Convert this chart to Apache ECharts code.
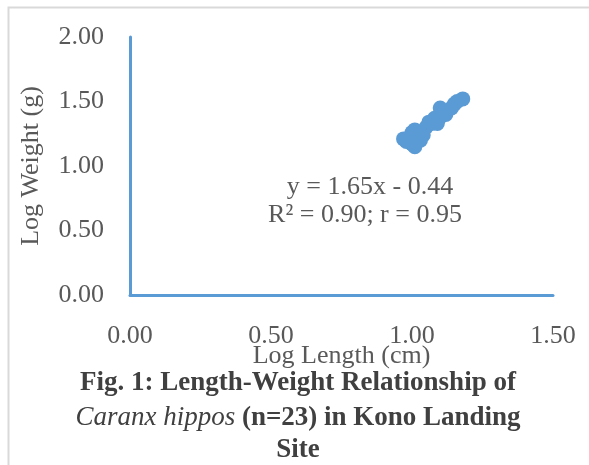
<!DOCTYPE html>
<html>
<head>
<meta charset="utf-8">
<script src="https://cdn.jsdelivr.net/npm/echarts@6/dist/echarts.min.js"></script>
<style>
  html, body { margin: 0; padding: 0; background: #fff; }
  #chart { width: 589px; height: 465px; }
</style>
</head>
<body>
<div id="chart"></div>
<script>
// Log length (cm) and log weight (g) of the 23 measured fish
const logLength = [0.97, 0.98, 0.99, 1.00, 1.00, 1.01, 1.01, 1.02, 1.03, 1.04, 1.05, 1.06,
                   1.07, 1.08, 1.09, 1.10, 1.10, 1.11, 1.12, 1.14, 1.15, 1.16, 1.18];
const logWeight = [1.21, 1.19, 1.22, 1.26, 1.17, 1.15, 1.28, 1.22, 1.20, 1.24, 1.30, 1.34,
                   1.33, 1.37, 1.33, 1.38, 1.45, 1.42, 1.40, 1.45, 1.48, 1.50, 1.52];
const xTicks = [0, 0.5, 1.0, 1.5];
const yTicks = [0, 0.5, 1.0, 1.5, 2.0];
const equationText = 'y = 1.65x - 0.44';
const fitText = 'R² = 0.90; r = 0.95';

const points = logLength.map((x, i) => [x, logWeight[i]]);
const serif = '"Liberation Serif", "Times New Roman", serif';
const blue = '#5B9BD5';
const grey = '#595959';
const dark = '#404040';

const chart = echarts.init(document.getElementById('chart'));
chart.setOption({
  animation: false,
  grid: { left: 130, right: 36, top: 37, bottom: 170 },
  xAxis: {
    type: 'value',
    min: xTicks[0], max: xTicks[xTicks.length - 1], interval: 0.5,
    name: 'Log Length (cm)', nameLocation: 'middle', nameGap: 48,
    nameMoveOverlap: false,
    nameTextStyle: { fontFamily: serif, fontSize: 26, color: grey },
    axisLine: { show: true, lineStyle: { color: blue, width: 3 } },
    axisTick: { show: false },
    splitLine: { show: false },
    axisLabel: { fontFamily: serif, fontSize: 26, color: grey, margin: 28,
                 formatter: v => v.toFixed(2) }
  },
  yAxis: {
    type: 'value',
    min: yTicks[0], max: yTicks[yTicks.length - 1], interval: 0.5,
    name: 'Log Weight (g)', nameLocation: 'middle', nameGap: 86,
    nameMoveOverlap: false,
    nameTextStyle: { fontFamily: serif, fontSize: 26, color: grey },
    axisLine: { show: true, lineStyle: { color: blue, width: 3 } },
    axisTick: { show: false },
    splitLine: { show: false },
    axisLabel: { fontFamily: serif, fontSize: 26, color: grey, margin: 26,
                 formatter: v => v.toFixed(2) }
  },
  series: [{
    type: 'scatter',
    data: points,
    symbol: 'circle',
    symbolSize: 15,
    itemStyle: { color: blue, opacity: 1 }
  }],
  graphic: [
    { type: 'rect', left: 6, top: 5, shape: { width: 620, height: 500 },
      style: { fill: 'none', stroke: '#D9D9D9', lineWidth: 2 }, silent: true },
    { type: 'text', x: 370, y: 187,
      style: { text: equationText, fontFamily: serif, fontSize: 26, fill: grey,
               textAlign: 'center', textVerticalAlign: 'middle' } },
    { type: 'text', x: 365, y: 215,
      style: { text: fitText, fontFamily: serif, fontSize: 26, fill: grey,
               textAlign: 'center', textVerticalAlign: 'middle' } },
    { type: 'text', x: 298, y: 383,
      style: { text: 'Fig. 1: Length-Weight Relationship of', fontFamily: serif,
               fontSize: 27, fontWeight: 'bold', fill: dark,
               textAlign: 'center', textVerticalAlign: 'middle' } },
    { type: 'text', x: 298, y: 418,
      style: { text: '{i|Caranx hippos} {b|(n=23) in Kono Landing}',
               fontFamily: serif, fontSize: 27, fill: dark,
               textAlign: 'center', textVerticalAlign: 'middle',
               rich: {
                 i: { fontFamily: serif, fontSize: 27, fontStyle: 'italic', fontWeight: 'normal', fill: dark },
                 b: { fontFamily: serif, fontSize: 27, fontWeight: 'bold', fill: dark }
               } } },
    { type: 'text', x: 298, y: 450,
      style: { text: 'Site', fontFamily: serif, fontSize: 27, fontWeight: 'bold', fill: dark,
               textAlign: 'center', textVerticalAlign: 'middle' } }
  ]
});
</script>
</body>
</html>
